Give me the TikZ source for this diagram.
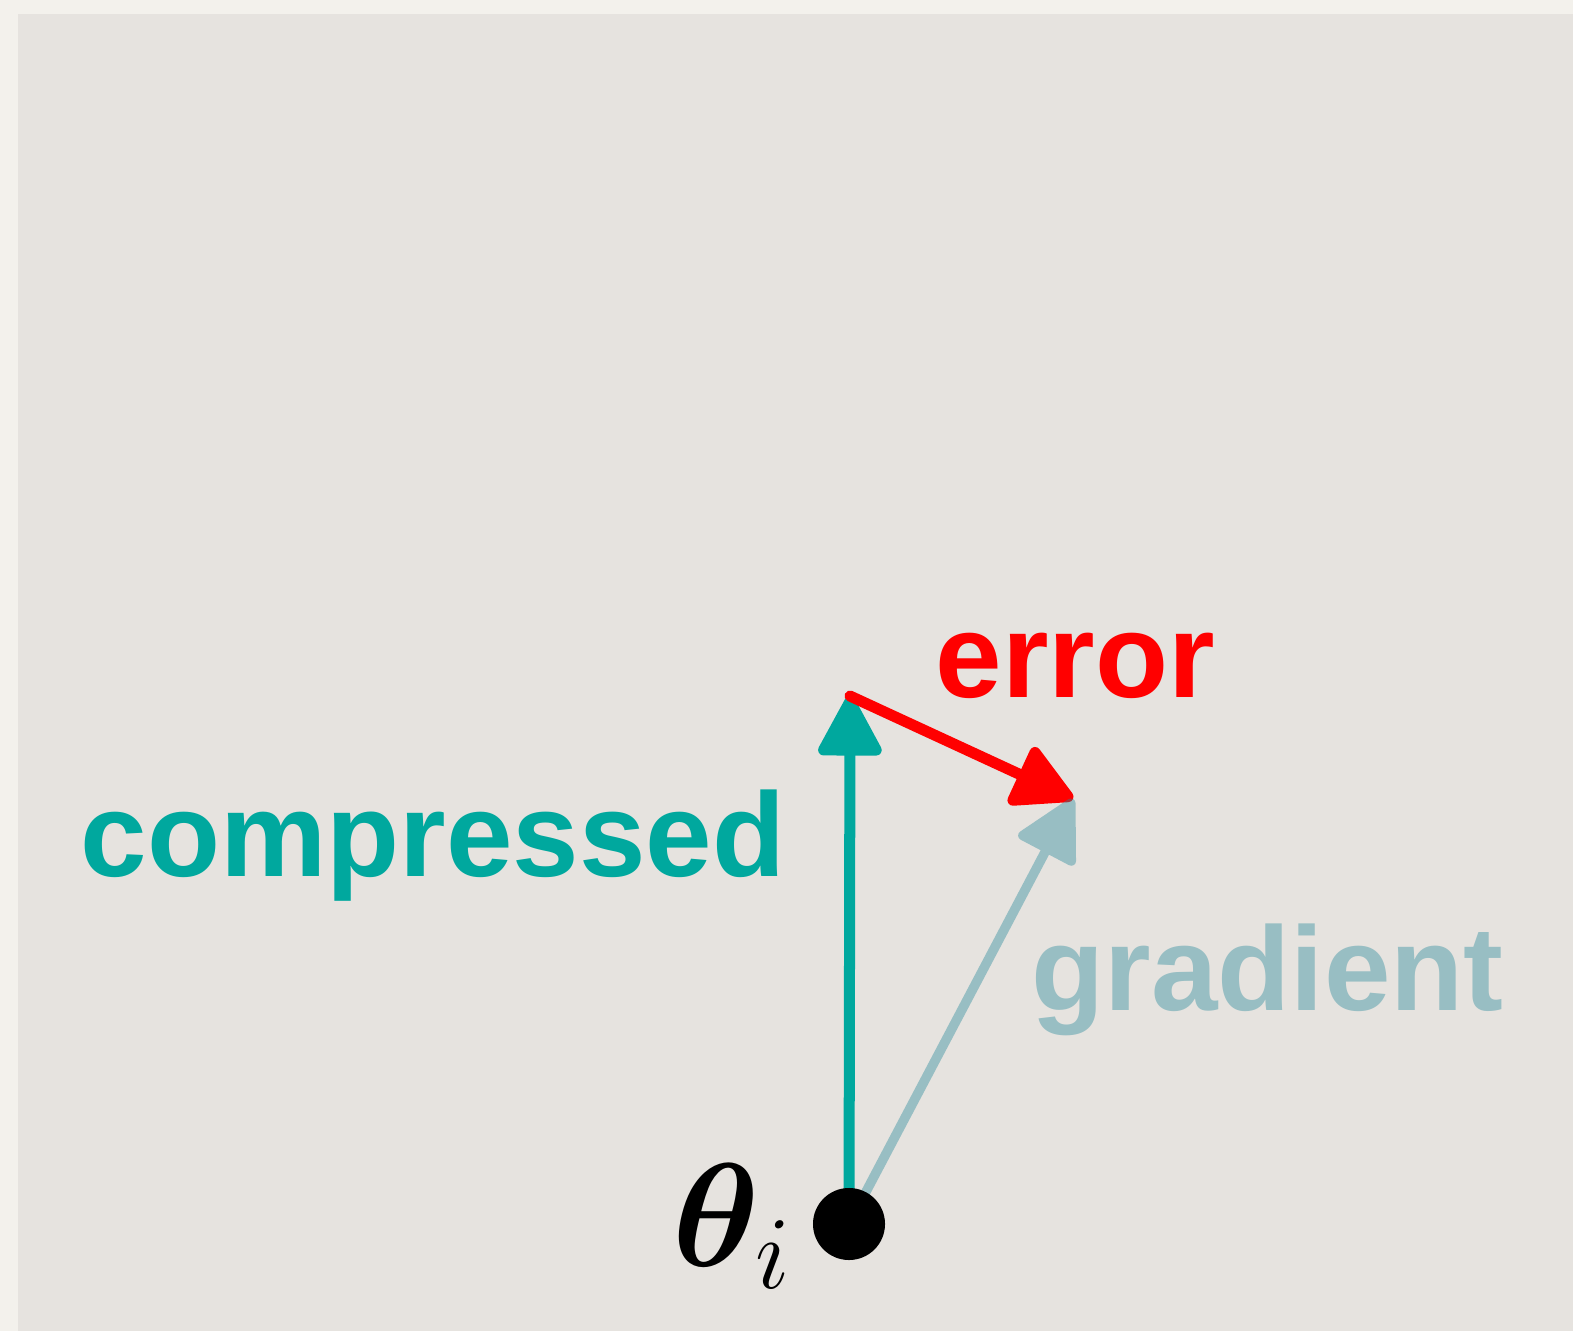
\RequirePackage{fix-cm}
\documentclass[tikz,border=0pt]{standalone}
\usepackage{fontspec}
\setmainfont{Liberation Sans}
\usepackage{amsmath,amssymb,bm}
\usetikzlibrary{arrows.meta,positioning}
\definecolor{paper}{RGB}{243,241,236}
\definecolor{board}{RGB}{230,227,223}
\definecolor{compteal}{RGB}{0,168,158}
\definecolor{gradteal}{RGB}{35,135,153}
\definecolor{gradtext}{RGB}{152,190,195}
\definecolor{errred}{RGB}{255,0,0}

\tikzset{
    vec/.style={line width=0.11cm, line cap=round,
        -{Triangle[length=0.66cm, width=0.68cm, round]}},
    lbl/.style={font=\fontsize{34pt}{38pt}\selectfont\bfseries, inner sep=0pt},
}

\begin{document}
\begin{tikzpicture}[x=0.01cm, y=-0.01cm]
    % Background
    \fill[paper] (0,0) rectangle (1573,1331);
    \fill[board] (18,14) rectangle (1573,1331);
    \useasboundingbox (0,0) rectangle (1573,1331);

    % Points
    \coordinate (o) at (849,1224);
    \coordinate (ctip) at (850,696);
    \coordinate (gtip) at (1073,799);

    % Draw vectors
    \draw[vec, compteal] (o) -- (ctip);
    \draw[vec, errred] (ctip) -- (gtip);
    \begin{scope}[transparency group, opacity=0.4]
        \draw[vec, gradteal, line width=0.095cm] (o) -- (gtip);
    \end{scope}

    % Draw vertex
    \node[fill=black, circle, inner sep=0pt, minimum size=0.72cm] (theta) at (o) {};

    % Labels
    \node[lbl, compteal, anchor=base west] (comp) at (80,876) {compressed};
    \node[lbl, errred, anchor=base west] (err) at (935,698) {error};
    \node[lbl, gradtext, anchor=base west] (grad) at (1031,1010) {gradient};
    \node[inner sep=0pt, anchor=base east, font=\fontsize{42pt}{46pt}\selectfont] (thlbl) at (792,1266) {$\bm{\theta}_i$};
\end{tikzpicture}
\end{document}
